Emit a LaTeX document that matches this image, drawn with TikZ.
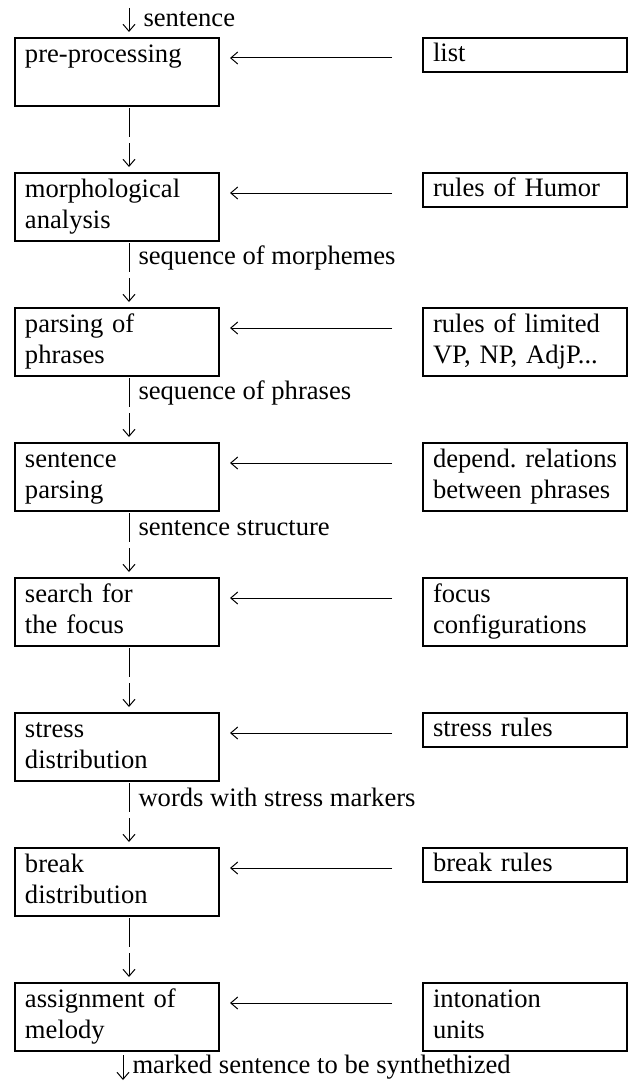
\documentclass[tikz,border=0pt]{standalone}
\usepackage{fontspec}
\setmainfont{Liberation Serif}
\usetikzlibrary{arrows.meta,positioning}

\begin{document}
\begin{tikzpicture}[
  font=\fontsize{13.3pt}{15.3pt}\selectfont\frenchspacing,
  box/.style={draw, line width=0.9pt, text width=92pt, align=left,
              inner xsep=5pt, inner ysep=0pt, outer sep=0pt,
              minimum height=34pt,
              execute at begin node=\strut, execute at end node=\strut},
  rbox/.style={box, anchor=north west},
  sbox/.style={rbox, minimum height=17pt},
  arr/.style={-{Straight Barb[length=3.5pt,width=6pt]}, line width=0.5pt},
  down/.style={arr, dash pattern=on 14.5pt off 3pt on 40pt,
               shorten <=1pt, shorten >=3pt},
  lab/.style={right, inner xsep=0pt},
]
  \useasboundingbox (0,0) rectangle (315.5pt,-540.5pt);

  \node[box, anchor=north west] (pre) at (7.5pt,-19pt) {pre-processing\\~};
  \node[box, below=33.5pt of pre] (morph) {morphological\\analysis};
  \node[box, below=33.5pt of morph] (phr) {parsing of\\phrases};
  \node[box, below=33.5pt of phr] (sent) {sentence\\parsing};
  \node[box, below=33.5pt of sent] (focus) {search for\\the focus};
  \node[box, below=33.5pt of focus] (stress) {stress\\distribution};
  \node[box, below=33.5pt of stress] (brk) {break\\distribution};
  \node[box, below=33.5pt of brk] (mel) {assignment of\\melody};

  \node[right=102pt of pre.north east, sbox] (lst) {list};
  \node[right=102pt of morph.north east, sbox] (humor) {rules of Humor};
  \node[right=102pt of phr.north east, rbox] (lim) {rules of limited\\VP, NP, AdjP...};
  \node[right=102pt of sent.north east, rbox] (dep) {\mbox{depend. relations}\\\mbox{between phrases}};
  \node[right=102pt of focus.north east, rbox] (conf) {focus\\configurations};
  \node[right=102pt of stress.north east, sbox] (srules) {stress rules};
  \node[right=102pt of brk.north east, sbox] (brules) {break rules};
  \node[right=102pt of mel.north east, rbox] (units) {intonation\\units};

  \coordinate (in) at ([xshift=6pt,yshift=15pt]pre.north);
  \coordinate (out) at ([xshift=3pt,yshift=-14.5pt]mel.south);

  \draw[arr] (in) -- ([xshift=6pt,yshift=3pt]pre.north) node[lab, pos=0.45, xshift=7pt]{sentence};

  \draw[arr] ([xshift=-15.5pt,yshift=-10pt]lst.north west) -- ([xshift=5.5pt,yshift=-10pt]pre.north east);
  \draw[arr] ([xshift=-15.5pt,yshift=-10pt]humor.north west) -- ([xshift=5.5pt,yshift=-10pt]morph.north east);
  \draw[arr] ([xshift=-15.5pt,yshift=-10pt]lim.north west) -- ([xshift=5.5pt,yshift=-10pt]phr.north east);
  \draw[arr] ([xshift=-15.5pt,yshift=-10pt]dep.north west) -- ([xshift=5.5pt,yshift=-10pt]sent.north east);
  \draw[arr] ([xshift=-15.5pt,yshift=-10pt]conf.north west) -- ([xshift=5.5pt,yshift=-10pt]focus.north east);
  \draw[arr] ([xshift=-15.5pt,yshift=-10pt]srules.north west) -- ([xshift=5.5pt,yshift=-10pt]stress.north east);
  \draw[arr] ([xshift=-15.5pt,yshift=-10pt]brules.north west) -- ([xshift=5.5pt,yshift=-10pt]brk.north east);
  \draw[arr] ([xshift=-15.5pt,yshift=-10pt]units.north west) -- ([xshift=5.5pt,yshift=-10pt]mel.north east);

  \draw[down] ([xshift=6pt]pre.south) -- ([xshift=6pt]morph.north);
  \draw[down] ([xshift=6pt]morph.south) -- ([xshift=6pt]phr.north) node[lab, pos=0.25, xshift=4.5pt]{sequence of morphemes};
  \draw[down] ([xshift=6pt]phr.south) -- ([xshift=6pt]sent.north) node[lab, pos=0.25, xshift=4.5pt]{sequence of phrases};
  \draw[down] ([xshift=6pt]sent.south) -- ([xshift=6pt]focus.north) node[lab, pos=0.25, xshift=4.5pt]{sentence structure};
  \draw[down] ([xshift=6pt]focus.south) -- ([xshift=6pt]stress.north);
  \draw[down] ([xshift=6pt]stress.south) -- ([xshift=6pt]brk.north) node[lab, pos=0.25, xshift=4.5pt]{words with stress markers};
  \draw[down] ([xshift=6pt]brk.south) -- ([xshift=6pt]mel.north);

  \draw[arr] ([xshift=3pt,yshift=-2pt]mel.south) -- (out) node[lab, pos=0.5, xshift=4.5pt]{marked sentence to be synthethized};
\end{tikzpicture}
\end{document}
